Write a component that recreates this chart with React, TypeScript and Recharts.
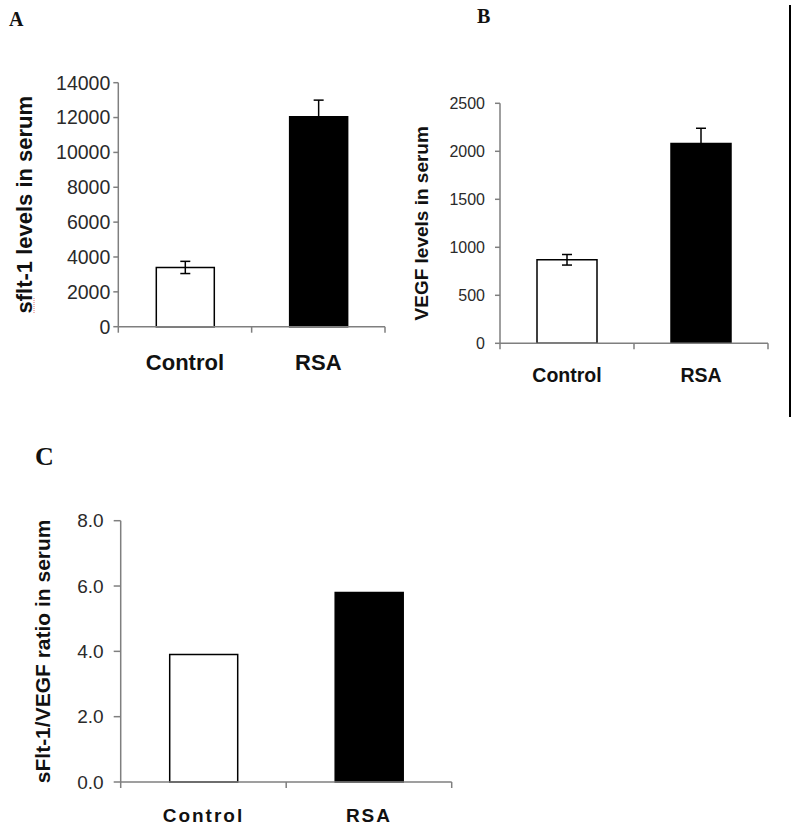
import React from 'react';
import { BarChart, Bar, XAxis, YAxis, ErrorBar, Cell, Label } from 'recharts';

const categories = ['Control', 'RSA'];
const barColors = ['#ffffff', '#000000'];

const sflt1Values = [3400, 12050];
const sflt1Errors = [350, 950];
const sflt1Ticks = [0, 2000, 4000, 6000, 8000, 10000, 12000, 14000];

const vegfValues = [870, 2080];
const vegfErrors = [55, 160];
const vegfTicks = [0, 500, 1000, 1500, 2000, 2500];

const ratioValues = [3.9, 5.8];
const ratioTicks = [0, 2, 4, 6, 8];

const FONT = '"Liberation Sans", Arial, Helvetica, sans-serif';
const SERIF = '"Liberation Serif", "Times New Roman", serif';
const AXIS_GRAY = '#7f7f7f';

const makeRows = (values: number[], errors?: number[]) =>
  categories.map((c, i) => ({ name: c, value: values[i], err: errors ? errors[i] : 0 }));

function makeCatTick(plotWidth: number, n: number, fontSize: number, letterSpacing: number, textDy: number) {
  return (props: any) => {
    const { x, y, payload, index } = props;
    const bw = plotWidth / n;
    return (
      <g>
        <line x1={x - bw / 2} x2={x - bw / 2} y1={y - 6} y2={y} stroke={AXIS_GRAY} strokeWidth={1.5} />
        {index === n - 1 && (
          <line x1={x + bw / 2} x2={x + bw / 2} y1={y - 6} y2={y} stroke={AXIS_GRAY} strokeWidth={1.5} />
        )}
        <text
          x={x}
          y={y + textDy}
          textAnchor="middle"
          dominantBaseline="central"
          fontFamily={FONT}
          fontWeight="bold"
          fontSize={fontSize}
          letterSpacing={letterSpacing}
          fill="#111"
        >
          {payload.value}
        </text>
      </g>
    );
  };
}

function makeYLabel(text: string, dx: number, fontSize: number) {
  return (props: any) => {
    const vb = props.viewBox || { x: 0, y: 0, width: 0, height: 0 };
    const cx = vb.x + dx;
    const cy = vb.y + vb.height / 2;
    return (
      <text
        x={cx}
        y={cy}
        transform={`rotate(-90, ${cx}, ${cy})`}
        textAnchor="middle"
        dominantBaseline="central"
        fontFamily={FONT}
        fontWeight="bold"
        fontSize={fontSize}
        fill="#111"
      >
        {text}
      </text>
    );
  };
}

type PanelProps = {
  left: number;
  top: number;
  width: number;
  height: number;
  margin: { top: number; right: number; left: number; bottom: number };
  yAxisWidth: number;
  xAxisHeight: number;
  rows: { name: string; value: number; err: number }[];
  ticks: number[];
  tickFontSize: number;
  tickSize: number;
  tickMargin: number;
  tickFormatter?: (v: number) => string;
  yLabel: string;
  yLabelDx: number;
  yLabelSize: number;
  catFontSize: number;
  catLetterSpacing: number;
  catDy: number;
  barSize: number;
  showError: boolean;
};

function Panel(p: PanelProps) {
  const plotWidth = p.width - p.margin.left - p.margin.right - p.yAxisWidth;
  return (
    <div style={{ position: 'absolute', left: p.left, top: p.top, width: p.width, height: p.height }}>
      <BarChart width={p.width} height={p.height} data={p.rows} margin={p.margin} barCategoryGap={0}>
        <XAxis
          dataKey="name"
          type="category"
          height={p.xAxisHeight}
          axisLine={{ stroke: AXIS_GRAY, strokeWidth: 1.5 }}
          tickLine={false}
          tickSize={6}
          tickMargin={0}
          interval={0}
          padding={{ left: 0, right: 0 }}
          tick={makeCatTick(plotWidth, categories.length, p.catFontSize, p.catLetterSpacing, p.catDy)}
        />
        <YAxis
          type="number"
          width={p.yAxisWidth}
          domain={[p.ticks[0], p.ticks[p.ticks.length - 1]]}
          ticks={p.ticks}
          interval={0}
          tickFormatter={p.tickFormatter}
          axisLine={{ stroke: AXIS_GRAY, strokeWidth: 1.5 }}
          tickLine={{ stroke: AXIS_GRAY, strokeWidth: 1.5 }}
          tickSize={p.tickSize}
          tickMargin={p.tickMargin}
          tick={{ fill: '#2a2a2a', fontSize: p.tickFontSize, fontFamily: FONT }}
        >
          <Label content={makeYLabel(p.yLabel, p.yLabelDx, p.yLabelSize)} />
        </YAxis>
        <Bar dataKey="value" barSize={p.barSize} stroke="#000" strokeWidth={1.5} isAnimationActive={false}>
          {p.rows.map((r, i) => (
            <Cell key={r.name} fill={barColors[i]} />
          ))}
          {p.showError && (
            <ErrorBar dataKey="err" width={5} stroke="#000" strokeWidth={1.5} direction="y" />
          )}
        </Bar>
      </BarChart>
    </div>
  );
}

export default function App() {
  return (
    <div style={{ position: 'absolute', left: 0, top: 0, width: 800, height: 837, background: '#fff', overflow: 'hidden' }}>
      <Panel
        left={0}
        top={0}
        width={400}
        height={400}
        margin={{ top: 82.7, right: 15, left: 0, bottom: 0 }}
        yAxisWidth={118.3}
        xAxisHeight={73.3}
        rows={makeRows(sflt1Values, sflt1Errors)}
        ticks={sflt1Ticks}
        tickFontSize={19.5}
        tickSize={5}
        tickMargin={3}
        yLabel="sflt-1 levels in serum"
        yLabelDx={25}
        yLabelSize={22}
        catFontSize={22}
        catLetterSpacing={0}
        catDy={30}
        barSize={58}
        showError={true}
      />
      <Panel
        left={400}
        top={0}
        width={390}
        height={400}
        margin={{ top: 103.3, right: 22, left: 0, bottom: 0 }}
        yAxisWidth={100}
        xAxisHeight={56.7}
        rows={makeRows(vegfValues, vegfErrors)}
        ticks={vegfTicks}
        tickFontSize={16}
        tickSize={5}
        tickMargin={10}
        yLabel="VEGF levels in serum"
        yLabelDx={21.7}
        yLabelSize={19}
        catFontSize={19.5}
        catLetterSpacing={0}
        catDy={25.7}
        barSize={60}
        showError={true}
      />
      <Panel
        left={0}
        top={410}
        width={470}
        height={427}
        margin={{ top: 110.7, right: 18.3, left: 0, bottom: 0 }}
        yAxisWidth={120.7}
        xAxisHeight={55}
        rows={makeRows(ratioValues)}
        ticks={ratioTicks}
        tickFontSize={19}
        tickSize={7}
        tickMargin={10}
        tickFormatter={(v: number) => v.toFixed(1)}
        yLabel="sFlt-1/VEGF ratio in serum"
        yLabelDx={43}
        yLabelSize={21}
        catFontSize={19}
        catLetterSpacing={2}
        catDy={27}
        barSize={68}
        showError={false}
      />
      <svg width={800} height={837} style={{ position: 'absolute', left: 0, top: 0, pointerEvents: 'none' }}>
        <text x={9} y={26} fontFamily={SERIF} fontWeight="bold" fontSize={20} fill="#111">A</text>
        <text x={477} y={23} fontFamily={SERIF} fontWeight="bold" fontSize={20} fill="#111">B</text>
        <text x={35} y={465} fontFamily={SERIF} fontWeight="bold" fontSize={26} fill="#111">C</text>
        <line x1={34} x2={34} y1={298} y2={313} stroke="#e07070" strokeWidth={1} strokeDasharray="1 1" />
        <line x1={790} x2={790} y1={5} y2={417} stroke="#000" strokeWidth={2} />
      </svg>
    </div>
  );
}
